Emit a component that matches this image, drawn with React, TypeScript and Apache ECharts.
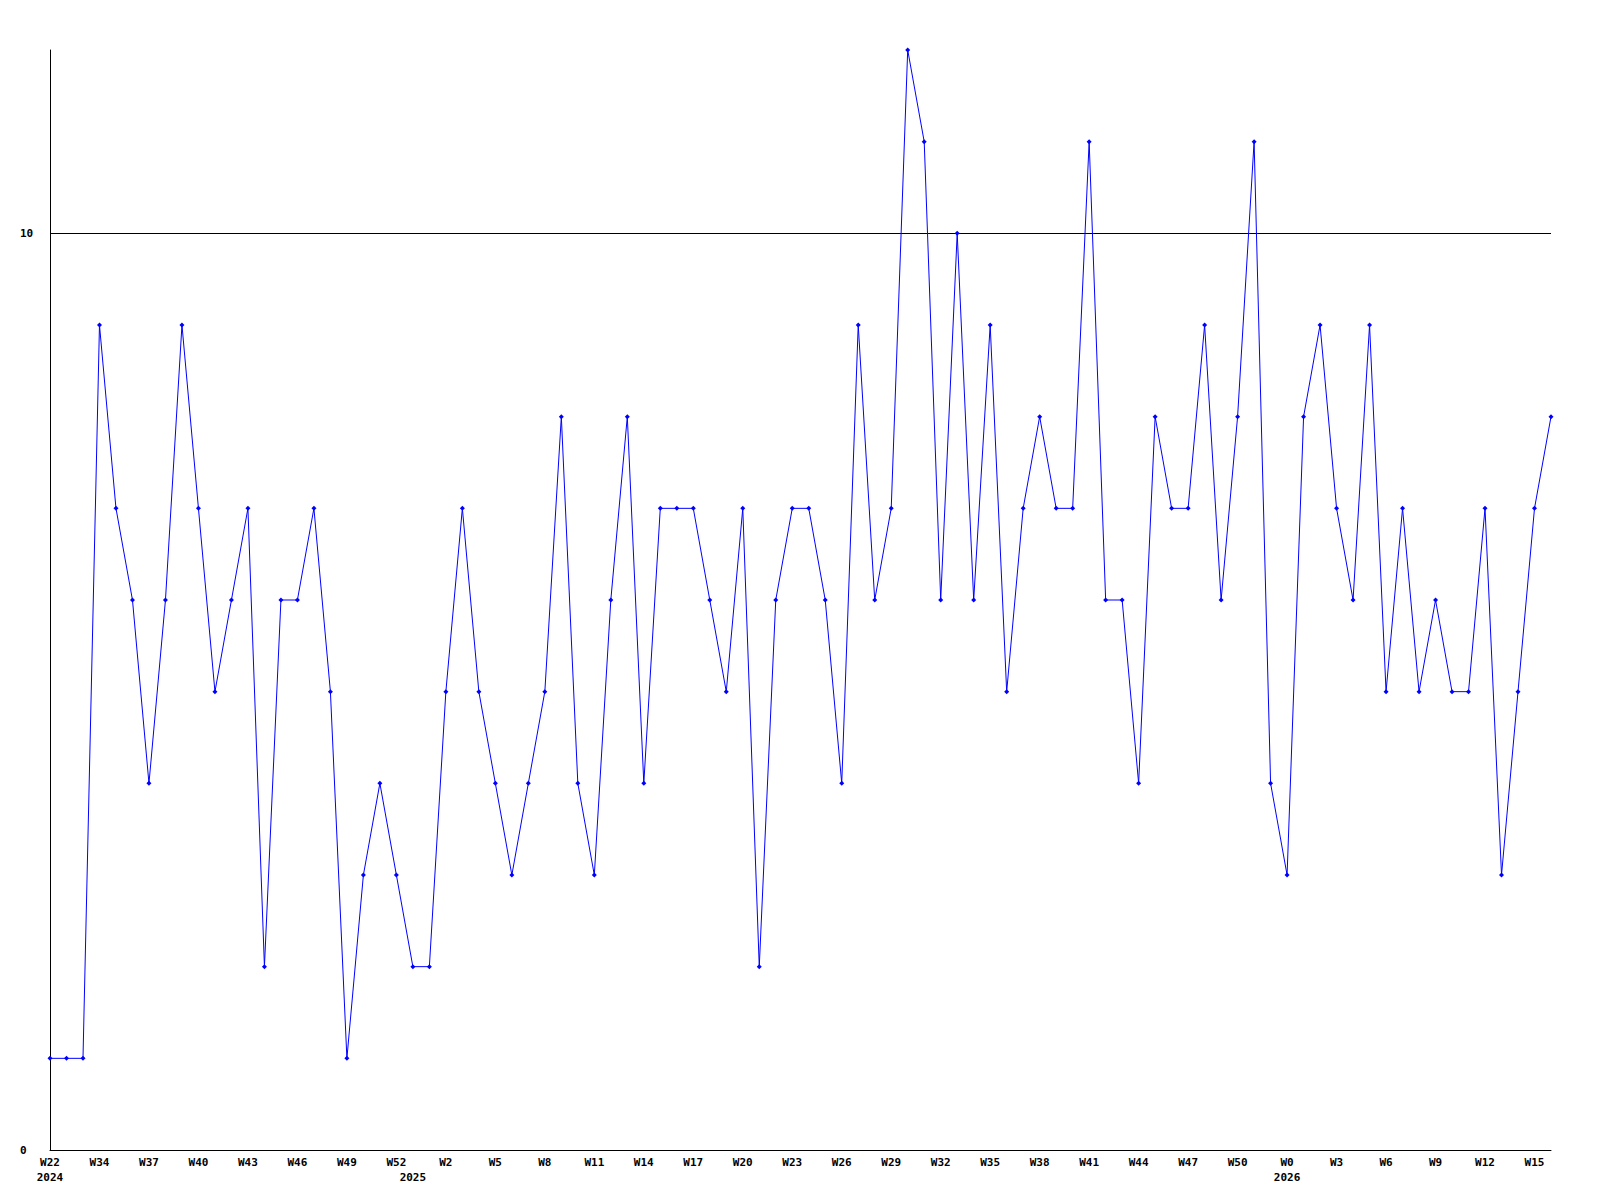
import React, { useEffect, useRef } from "react";
import * as echarts from "echarts";

// weekly values, one per category position (92 points)
const values: number[] = [
  1, 1, 1, 9, 7, 6, 4, 6, 9, 7,
  5, 6, 7, 2, 6, 6, 7, 5, 1, 3,
  4, 3, 2, 2, 5, 7, 5, 4, 3, 4,
  5, 8, 4, 3, 6, 8, 4, 7, 7, 7,
  6, 5, 7, 2, 6, 7, 7, 6, 4, 9,
  6, 7, 12, 11, 6, 10, 6, 9, 5, 7,
  8, 7, 7, 11, 6, 6, 4, 8, 7, 7,
  9, 6, 8, 11, 4, 3, 8, 9, 7, 6,
  9, 5, 7, 5, 6, 5, 5, 7, 3, 5,
  7, 8,
];

const categories: string[] = values.map((_, i) => String(i));

// week tick labels, shown on every third category
const weekLabels: string[] = [
  "W22", "W34", "W37", "W40", "W43", "W46", "W49", "W52", "W2", "W5",
  "W8", "W11", "W14", "W17", "W20", "W23", "W26", "W29", "W32", "W35",
  "W38", "W41", "W44", "W47", "W50", "W0", "W3", "W6", "W9", "W12", "W15",
];

// year labels by category index
const yearIndex: number[] = [0, 22, 75];
const yearLabels: string[] = ["2024", "2025", "2026"];

const FONT = "DejaVu Sans Mono";

export default function App() {
  const ref = useRef<HTMLDivElement>(null);
  useEffect(() => {
    if (!ref.current) return;
    const chart = echarts.init(ref.current, null, { renderer: "svg" });
    chart.setOption({
      animation: false,
      backgroundColor: "#ffffff",
      grid: { left: 50, right: 49, top: 50, bottom: 50, containLabel: false },
      xAxis: [
        {
          type: "category",
          data: categories,
          boundaryGap: false,
          axisLine: { show: true, lineStyle: { color: "#000", width: 1 } },
          axisTick: { show: false },
          splitLine: { show: false },
          axisLabel: {
            interval: 2,
            margin: 7,
            color: "#000",
            fontFamily: FONT,
            fontWeight: "bold",
            fontSize: 11,
            formatter: (_v: string, i: number) => weekLabels[Math.round(i / 3)] ?? "",
          },
        },
        {
          type: "category",
          data: categories,
          boundaryGap: false,
          position: "bottom",
          offset: 15,
          axisLine: { show: false },
          axisTick: { show: false },
          splitLine: { show: false },
          axisLabel: {
            interval: 0,
            margin: 7,
            color: "#000",
            fontFamily: FONT,
            fontWeight: "bold",
            fontSize: 11,
            formatter: (_v: string, i: number) => {
              const k = yearIndex.indexOf(i);
              return k >= 0 ? yearLabels[k] : "";
            },
          },
        },
      ],
      yAxis: {
        type: "value",
        min: 0,
        max: 12,
        interval: 10,
        axisLine: { show: true, lineStyle: { color: "#000", width: 1 } },
        axisTick: { show: false },
        splitLine: {
          show: true,
          showMaxLine: false,
          lineStyle: { color: "#000", width: 1 },
        },
        axisLabel: {
          align: "left",
          margin: 30,
          color: "#000",
          fontFamily: FONT,
          fontWeight: "bold",
          fontSize: 11,
          showMaxLabel: false,
        },
      },
      series: [
        {
          type: "line",
          xAxisIndex: 0,
          data: values,
          symbol: "diamond",
          symbolSize: 5,
          showAllSymbol: true,
          lineStyle: { color: "#0000ff", width: 1 },
          itemStyle: { color: "#0000ff" },
          emphasis: { disabled: true },
        },
      ],
    });
    return () => chart.dispose();
  }, []);
  return (
    <div
      ref={ref}
      style={{ position: "fixed", left: 0, top: 0, width: 1600, height: 1200, background: "#fff" }}
    />
  );
}
